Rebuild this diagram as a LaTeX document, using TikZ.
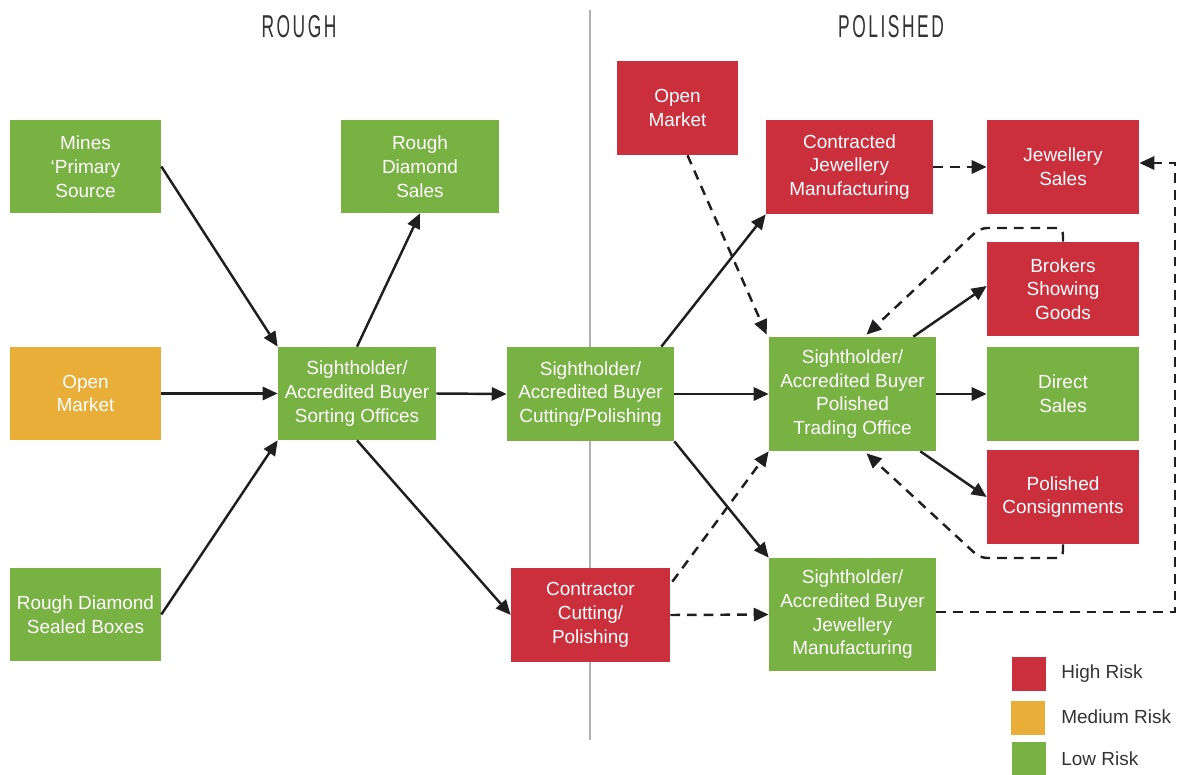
\documentclass[tikz,border=0pt]{standalone}
\usepackage{fontspec}
\setmainfont{Liberation Sans}
\newfontfamily\titlefont{Liberation Sans}[FakeStretch=0.55,LetterSpace=8]
\usetikzlibrary{arrows.meta,calc}
\definecolor{lowg}{RGB}{120,178,67}
\definecolor{highr}{RGB}{204,47,60}
\definecolor{medo}{RGB}{232,174,56}
\definecolor{txt}{RGB}{51,51,51}
\definecolor{divg}{RGB}{178,178,182}
\begin{document}
\begin{tikzpicture}[x=0.02cm,y=-0.02cm,
 box/.style={fill=#1, text=white, align=center, inner sep=0pt, font=\fontsize{10.8}{13.5}\selectfont},
 std/.style={minimum width=3.02cm, minimum height=1.86cm},
 wide/.style={minimum width=3.16cm, minimum height=1.86cm},
 flow/.style={line width=1.4pt, draw=black!88, -{Triangle[length=8.5pt,width=7.5pt]}},
 dflow/.style={flow, dash pattern=on 5.5pt off 4pt},
 legbox/.style={fill=#1, minimum width=0.68cm, minimum height=0.68cm, inner sep=0pt},
 legtxt/.style={anchor=west, text=txt, inner sep=0pt, font=\fontsize{10.8}{13.5}\selectfont},
 title/.style={text=txt, inner sep=0pt, font=\titlefont\fontsize{18}{20}\selectfont},
]
\useasboundingbox (0,0) rectangle (1179,774);

% titles and divider
\node[title] (trough) at (299,27) {ROUGH};
\node[title] (tpol) at (891,27) {POLISHED};
\coordinate (dtop) at (590,10);
\coordinate (dbot) at (590,740);
\draw[divg, line width=1.1pt] (dtop) -- (dbot);

% rough side
\node[box=lowg, std] (mines) at (85.5,166.5) {Mines\\‘Primary\\Source};
\node[box=medo, std] (omkt) at (85.5,393.5) {Open\\Market};
\node[box=lowg, std] (sealed) at (85.5,614.5) {Rough Diamond\\Sealed Boxes};
\node[box=lowg, wide] (rsales) at (420,166.5) {Rough\\Diamond\\Sales};
\node[box=lowg, wide] (sort) at (357,393.5) {Sightholder/\\Accredited Buyer\\Sorting Offices};
\node[box=lowg, minimum width=3.34cm, minimum height=1.88cm] (cut) at (590.5,394) {Sightholder/\\Accredited Buyer\\Cutting/Polishing};
\node[box=highr, minimum width=3.18cm, minimum height=1.88cm] (contr) at (590.5,615) {Contractor\\Cutting/\\Polishing};

% polished side
\node[box=highr, minimum width=2.42cm, minimum height=1.88cm] (pmkt) at (677.5,108) {Open\\Market};
\node[box=highr, minimum width=3.34cm, minimum height=1.88cm] (cjm) at (849.5,167) {Contracted\\Jewellery\\Manufacturing};
\node[box=highr, minimum width=3.04cm, minimum height=1.88cm] (jsales) at (1063,167) {Jewellery\\Sales};
\node[box=highr, minimum width=3.04cm, minimum height=1.88cm] (brk) at (1063,289) {Brokers\\Showing\\Goods};
\node[box=lowg, minimum width=3.34cm, minimum height=2.28cm] (pol) at (852.5,394) {Sightholder/\\Accredited Buyer\\Polished\\Trading Office};
\node[box=lowg, minimum width=3.04cm, minimum height=1.88cm] (direct) at (1063,394) {Direct\\Sales};
\node[box=highr, minimum width=3.04cm, minimum height=1.88cm] (cons) at (1063,497) {Polished\\Consignments};
\node[box=lowg, minimum width=3.34cm, minimum height=2.26cm] (jm) at (852.5,614.5) {Sightholder/\\Accredited Buyer\\Jewellery\\Manufacturing};

% legend
\node[legbox=highr] (lh) at (1028.5,674) {};
\node[legbox=medo] (lm) at (1028,718) {};
\node[legbox=lowg] (ll) at (1028.5,759) {};
\node[legtxt] (lht) at (1061,674) {High Risk};
\node[legtxt] (lmt) at (1061,717) {Medium Risk};
\node[legtxt] (llt) at (1061,759) {Low Risk};

% rough connectors
\draw[flow] (mines.east) -- (sort.north west);
\draw[flow] (omkt.east) -- (sort.west);
\draw[flow] (sealed.east) -- (sort.south west);
\draw[flow] (sort.north) -- (rsales.south);
\draw[flow] (sort.east) -- (cut.west);
\draw[flow] (sort.south) -- (contr.west);

% polished connectors
\draw[flow] ($(cut.north east)+(-13,0)$) -- (cjm.south west);
\draw[flow] (cut.east) -- (pol.west);
\draw[flow] (cut.south east) -- (jm.north west);
\draw[dflow] ($(contr.north east)+(2,14)$) -- (pol.south west);
\draw[dflow] (contr.east) -- (jm.west);
\draw[dflow] ($(pmkt.south)+(10,0)$) -- ($(pol.north west)+(-2,-2)$);
\draw[dflow] (cjm.east) -- (jsales.west);
\draw[flow] ($(pol.north east)+(-23,0)$) -- ($(brk.west)+(0,-3)$);
\draw[flow] (pol.east) -- (direct.west);
\draw[flow] ($(pol.south east)+(-16,0)$) -- (cons.west);

\coordinate (bt1) at (1063,228);
\coordinate (bt2) at (980,228);
\draw[dflow, rounded corners=4pt] (brk.north) -- (bt1) -- (bt2) -- ($(pol.north)+(14,-2)$);
\coordinate (cb1) at (1063,558);
\coordinate (cb2) at (980,558);
\draw[dflow, rounded corners=4pt] (cons.south) -- (cb1) -- (cb2) -- ($(pol.south)+(14,2)$);

\coordinate (r1) at (1175,612);
\coordinate (r2) at (1175,163);
\draw[dflow] ($(jm.east)+(0,-2.5)$) -- (r1) -- (r2) -- ($(jsales.east)+(0,-4)$);
\end{tikzpicture}
\end{document}
